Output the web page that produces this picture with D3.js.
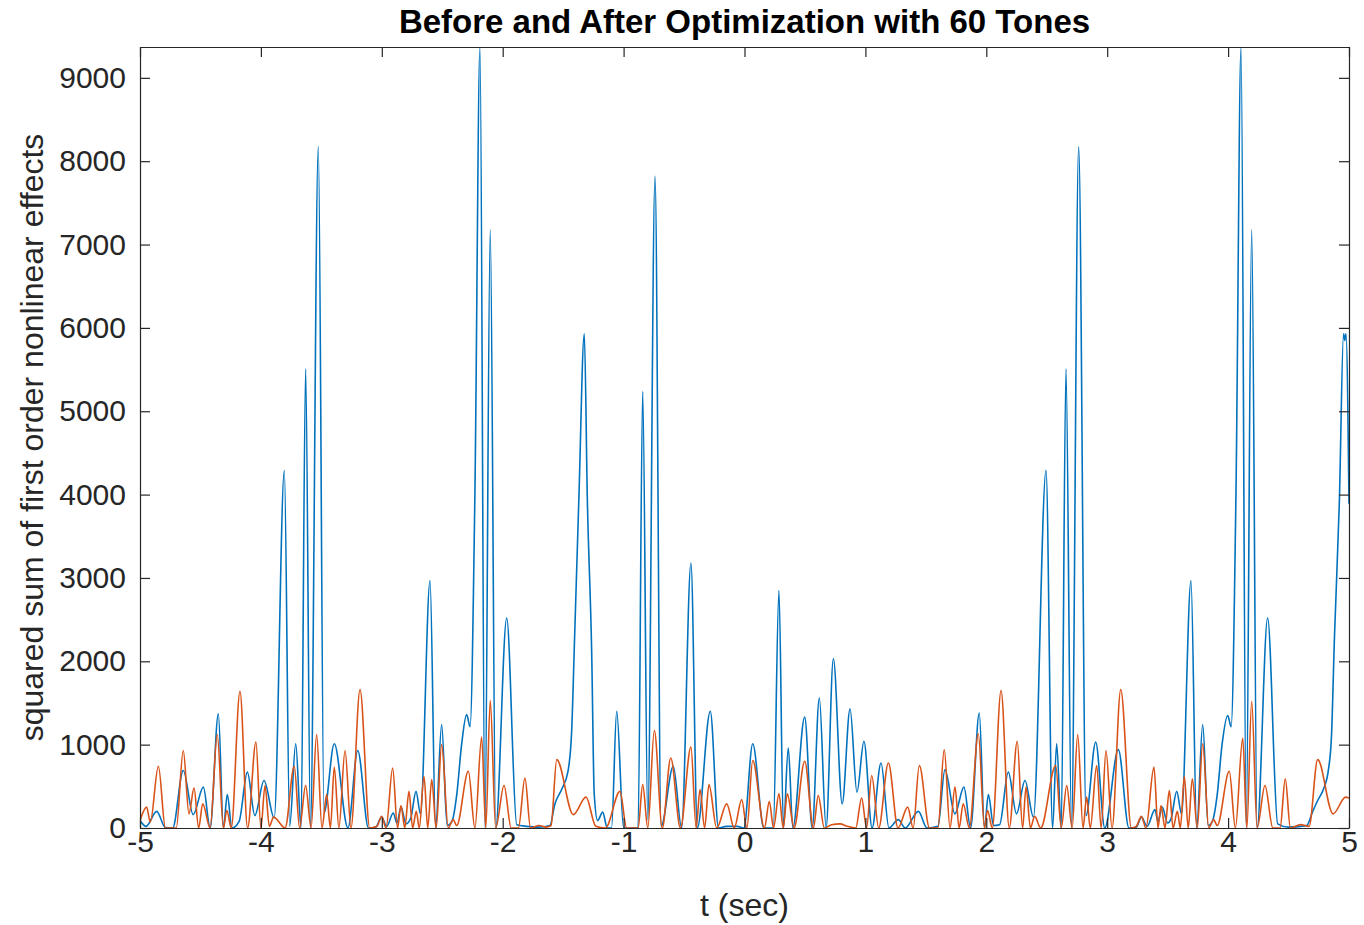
<!DOCTYPE html>
<html>
<head>
<meta charset="utf-8">
<script src="https://cdn.jsdelivr.net/npm/d3@7"></script>
<style>
  body { margin: 0; background: #fff; }
  text { font-family: "Liberation Sans", Arial, sans-serif; }
</style>
</head>
<body>
<div id="chart"></div>
<script>
// tick labels
const xTicks = [-5, -4, -3, -2, -1, 0, 1, 2, 3, 4, 5];
const yTicks = [0, 1000, 2000, 3000, 4000, 5000, 6000, 7000, 8000, 9000];

// before optimization: [t, squared sum] (peaks and valleys)
const beforeOpt = [
  [-5.000, 90], [-4.950, 20], [-4.862, 200], [-4.790, 5], [-4.730, 0], [-4.642, 690],
  [-4.560, 160], [-4.476, 490], [-4.420, 0], [-4.352, 1370], [-4.310, 0], [-4.278, 400],
  [-4.240, 0], [-4.180, 80], [-4.112, 670], [-4.050, 150], [-3.974, 570], [-3.890, 120],
  [-3.806, 4290], [-3.762, 20], [-3.712, 1010], [-3.668, 0], [-3.630, 5510], [-3.590, 0],
  [-3.525, 8175], [-3.478, 180], [-3.393, 1010], [-3.280, 0], [-3.199, 930], [-3.110, 0],
  [-3.050, 10], [-3.001, 130], [-2.960, 20], [-2.905, 180], [-2.875, 60], [-2.841, 250],
  [-2.800, 50], [-2.760, 120], [-2.717, 440], [-2.680, 170], [-2.601, 2970], [-2.555, 0],
  [-2.505, 1240], [-2.460, 30], [-2.420, 80], [-2.380, 400], [-2.340, 1000], [-2.298, 1360],
  [-2.270, 1215], [-2.230, 4000], [-2.188, 9370], [-2.147, 0], [-2.103, 7180], [-2.058, 0],
  [-1.967, 2520], [-1.884, 40], [-1.800, 20], [-1.700, 10], [-1.609, 30], [-1.570, 280],
  [-1.510, 470], [-1.460, 680], [-1.430, 1150], [-1.405, 2300], [-1.370, 3950], [-1.325, 5930],
  [-1.300, 3950], [-1.264, 2110], [-1.243, 410], [-1.215, 90], [-1.173, 190], [-1.135, 0],
  [-1.100, 0], [-1.057, 1400], [-1.000, 0], [-0.880, 0], [-0.842, 5240], [-0.800, 100],
  [-0.740, 7820], [-0.690, 20], [-0.589, 740], [-0.520, 0], [-0.443, 3180], [-0.390, 0],
  [-0.283, 1400], [-0.215, 0], [-0.150, 20], [-0.060, 20], [-0.005, 0], [0.068, 1010],
  [0.160, 0], [0.238, 0], [0.285, 2850], [0.322, 0], [0.362, 960], [0.400, 0],
  [0.498, 1330], [0.560, 0], [0.619, 1560], [0.675, 0], [0.735, 2030], [0.808, 290],
  [0.873, 1430], [0.930, 430], [0.988, 1040], [1.055, 0], [1.129, 780], [1.195, 0],
  [1.272, 100], [1.330, 0], [1.438, 200], [1.510, 0], [1.600, 20], [1.658, 700],
  [1.740, 170], [1.815, 490], [1.870, 0], [1.942, 1380], [1.985, 0], [2.017, 400],
  [2.060, 30], [2.110, 40], [2.182, 670], [2.250, 170], [2.320, 570], [2.390, 130],
  [2.494, 4290], [2.548, 0], [2.582, 1010], [2.620, 0], [2.659, 5510], [2.705, 0],
  [2.764, 8175], [2.825, 150], [2.905, 1030], [2.980, 0], [3.092, 940], [3.180, 0],
  [3.240, 10], [3.283, 130], [3.330, 20], [3.395, 220], [3.420, 80], [3.455, 250],
  [3.500, 60], [3.530, 120], [3.575, 440], [3.615, 170], [3.693, 2970], [3.740, 0],
  [3.790, 1240], [3.835, 30], [3.870, 80], [3.910, 400], [3.950, 1000], [3.997, 1350],
  [4.025, 1215], [4.065, 4000], [4.107, 9370], [4.150, 0], [4.195, 7180], [4.240, 0],
  [4.327, 2520], [4.410, 50], [4.500, 10], [4.600, 20], [4.650, 30], [4.700, 200],
  [4.741, 330], [4.790, 470], [4.830, 700], [4.855, 1100], [4.880, 2300], [4.920, 3900],
  [4.955, 5930], [4.965, 5850], [4.975, 5930], [5.000, 3890]
];

// after optimization
const afterOpt = [
  [-5.000, 90], [-4.945, 250], [-4.915, 70], [-4.848, 740], [-4.790, 0], [-4.700, 0],
  [-4.642, 930], [-4.595, 170], [-4.553, 480], [-4.515, 0], [-4.481, 290], [-4.420, 0],
  [-4.361, 1120], [-4.310, 0], [-4.282, 210], [-4.245, 0], [-4.173, 1640], [-4.110, 0],
  [-4.041, 1030], [-4.000, 0], [-3.966, 510], [-3.930, 20], [-3.895, 130], [-3.800, 0],
  [-3.724, 740], [-3.680, 0], [-3.630, 510], [-3.585, 0], [-3.539, 1120], [-3.495, 0],
  [-3.456, 400], [-3.425, 0], [-3.393, 730], [-3.355, 0], [-3.304, 930], [-3.255, 0],
  [-3.180, 1660], [-3.100, 0], [-3.040, 20], [-3.001, 140], [-2.965, 0], [-2.910, 720],
  [-2.870, 0], [-2.841, 270], [-2.810, 0], [-2.775, 440], [-2.745, 0], [-2.715, 200],
  [-2.690, 0], [-2.651, 620], [-2.620, 0], [-2.587, 580], [-2.550, 0], [-2.505, 1000],
  [-2.450, 0], [-2.410, 100], [-2.380, 30], [-2.284, 680], [-2.230, 0], [-2.174, 1090],
  [-2.140, 0], [-2.103, 1530], [-2.058, 0], [-1.989, 510], [-1.930, 0], [-1.870, 0],
  [-1.816, 600], [-1.770, 0], [-1.700, 30], [-1.640, 10], [-1.600, 30], [-1.553, 820],
  [-1.416, 160], [-1.311, 370], [-1.230, 20], [-1.150, 0], [-1.030, 440], [-0.975, 0],
  [-0.880, 0], [-0.842, 520], [-0.800, 0], [-0.746, 1170], [-0.680, 0], [-0.610, 840],
  [-0.530, 0], [-0.443, 970], [-0.400, 0], [-0.368, 460], [-0.330, 0], [-0.294, 520],
  [-0.230, 0], [-0.147, 290], [-0.085, 0], [-0.023, 340], [0.020, 0], [0.068, 810],
  [0.165, 0], [0.205, 320], [0.240, 0], [0.285, 410], [0.320, 0], [0.354, 410],
  [0.410, 0], [0.498, 800], [0.570, 0], [0.610, 390], [0.660, 0], [0.720, 40],
  [0.790, 50], [0.850, 20], [0.920, 0], [0.969, 360], [1.010, 0], [1.052, 630],
  [1.110, 0], [1.190, 780], [1.270, 0], [1.350, 250], [1.395, 0], [1.446, 750],
  [1.530, 0], [1.600, 0], [1.652, 940], [1.700, 0], [1.741, 490], [1.775, 0],
  [1.809, 290], [1.860, 0], [1.934, 1130], [1.985, 0], [2.010, 210], [2.050, 0],
  [2.122, 1650], [2.190, 0], [2.256, 1040], [2.300, 0], [2.329, 490], [2.365, 0],
  [2.400, 140], [2.450, 0], [2.574, 750], [2.620, 0], [2.665, 510], [2.710, 0],
  [2.756, 1120], [2.800, 0], [2.830, 370], [2.860, 0], [2.913, 750], [2.950, 0],
  [2.990, 930], [3.040, 0], [3.112, 1660], [3.200, 0], [3.240, 20], [3.283, 140],
  [3.320, 0], [3.387, 730], [3.420, 0], [3.445, 270], [3.478, 0], [3.514, 450],
  [3.545, 0], [3.580, 200], [3.605, 0], [3.638, 620], [3.670, 0], [3.704, 590],
  [3.745, 0], [3.790, 1010], [3.840, 0], [3.880, 100], [3.910, 30], [4.010, 680],
  [4.060, 0], [4.121, 1080], [4.155, 0], [4.195, 1520], [4.240, 0], [4.305, 510],
  [4.370, 0], [4.430, 0], [4.473, 590], [4.515, 0], [4.600, 40], [4.670, 20],
  [4.741, 820], [4.868, 170], [4.972, 370], [5.000, 360]
];

const W = 1364, H = 925;
const margin = { top: 47, right: 15, bottom: 97, left: 140 };
const innerW = W - margin.left - margin.right;
const innerH = H - margin.top - margin.bottom;

const svg = d3.select("#chart").append("svg")
  .attr("width", W)
  .attr("height", H);

const x = d3.scaleLinear().domain([-5, 5]).range([margin.left, margin.left + innerW]);
const y = d3.scaleLinear().domain([0, 9370]).range([margin.top + innerH, margin.top]);

svg.append("defs").append("clipPath").attr("id", "plotClip")
  .append("rect")
  .attr("x", margin.left).attr("y", margin.top)
  .attr("width", innerW).attr("height", innerH);

const line = d3.line()
  .x(d => x(d[0]))
  .y(d => y(d[1]))
  .curve(d3.curveMonotoneX);

const plot = svg.append("g").attr("clip-path", "url(#plotClip)");

plot.append("path")
  .datum(beforeOpt)
  .attr("fill", "none")
  .attr("stroke", "#0072BD")
  .attr("stroke-width", 1.6)
  .attr("d", line);

plot.append("path")
  .datum(afterOpt)
  .attr("fill", "none")
  .attr("stroke", "#D95319")
  .attr("stroke-width", 1.6)
  .attr("d", line);

// axes, ticks inside like matlab
const axisColor = "#262626";
const tickFont = 30;

const gx = svg.append("g")
  .attr("transform", `translate(0,${margin.top + innerH})`)
  .call(d3.axisBottom(x).tickValues(xTicks).tickSizeInner(-10).tickSizeOuter(0)
    .tickPadding(3).tickFormat(d => String(d)));

const gy = svg.append("g")
  .attr("transform", `translate(${margin.left},0)`)
  .call(d3.axisLeft(y).tickValues(yTicks).tickSizeInner(-10).tickSizeOuter(0)
    .tickPadding(14).tickFormat(d => String(d)));

const gxTop = svg.append("g")
  .attr("transform", `translate(0,${margin.top})`)
  .call(d3.axisTop(x).tickValues(xTicks).tickSizeInner(-10).tickSizeOuter(0).tickFormat(""));

const gyRight = svg.append("g")
  .attr("transform", `translate(${margin.left + innerW},0)`)
  .call(d3.axisRight(y).tickValues(yTicks).tickSizeInner(-10).tickSizeOuter(0).tickFormat(""));

[gx, gy, gxTop, gyRight].forEach(g => {
  g.select(".domain").attr("stroke", axisColor).attr("stroke-width", 1.2);
  g.selectAll(".tick line").attr("stroke", axisColor).attr("stroke-width", 1.2);
  g.selectAll(".tick text")
    .attr("fill", axisColor)
    .style("font-size", tickFont + "px")
    .style("font-family", "'Liberation Sans', Arial, sans-serif");
});

// title and labels
svg.append("text")
  .attr("x", margin.left + innerW / 2)
  .attr("y", 33)
  .attr("text-anchor", "middle")
  .style("font-size", "33px")
  .style("font-weight", "bold")
  .attr("fill", "#000")
  .text("Before and After Optimization with 60 Tones");

svg.append("text")
  .attr("x", margin.left + innerW / 2)
  .attr("y", 916)
  .attr("text-anchor", "middle")
  .style("font-size", "32px")
  .attr("fill", axisColor)
  .text("t (sec)");

svg.append("text")
  .attr("transform", `translate(43,${margin.top + innerH / 2}) rotate(-90)`)
  .attr("text-anchor", "middle")
  .style("font-size", "32px")
  .attr("fill", axisColor)
  .text("squared sum of first order nonlinear effects");
</script>
</body>
</html>
